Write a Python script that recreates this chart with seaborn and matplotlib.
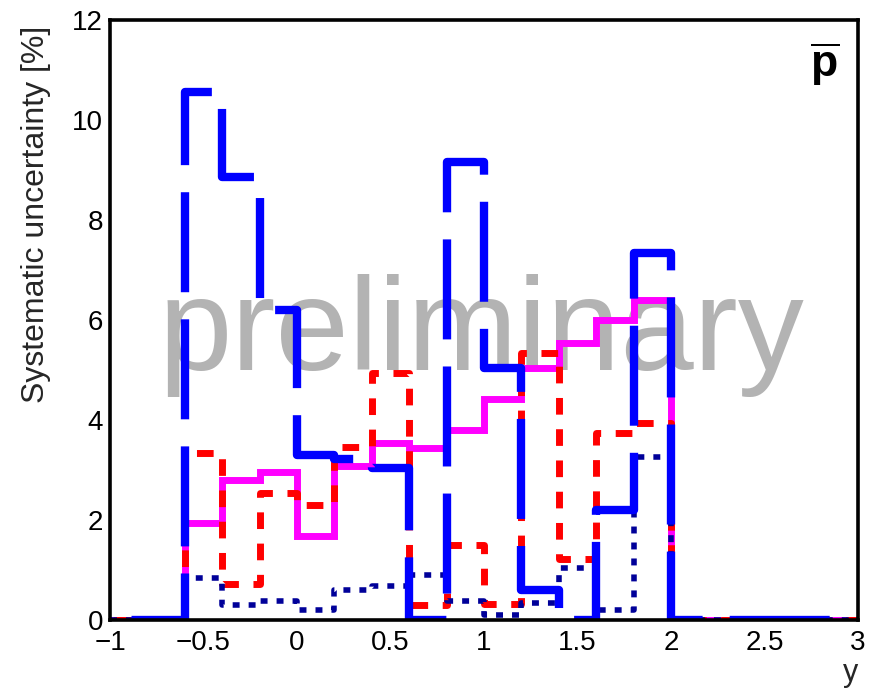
import matplotlib
matplotlib.use("Agg")
import matplotlib.pyplot as plt
from matplotlib.ticker import MultipleLocator
import numpy as np
import pandas as pd
import seaborn as sns

# rapidity bin edges (width 0.2 from -1 to 3)
bin_edges = [-1.0, -0.8, -0.6, -0.4, -0.2, 0.0, 0.2, 0.4, 0.6, 0.8, 1.0,
             1.2, 1.4, 1.6, 1.8, 2.0, 2.2, 2.4, 2.6, 2.8, 3.0]

# systematic uncertainty contributions per bin [%]
sys_blue = [0, 0, 10.55, 8.85, 6.2, 3.3, 3.22, 3.05, 0, 9.15, 5.05, 0.6,
            0, 2.2, 7.35, 0, 0, 0, 0, 0]
sys_magenta = [0, 0, 1.95, 2.8, 2.96, 1.68, 3.08, 3.55, 3.45, 3.8, 4.43, 5.05,
               5.55, 6.0, 6.4, 0, 0, 0, 0, 0]
sys_red = [0, 0, 3.35, 0.72, 2.55, 2.3, 3.47, 4.95, 0.3, 1.5, 0.33, 5.35,
           1.22, 3.75, 3.95, 0, 0, 0, 0, 0]
sys_navy = [0, 0, 0.85, 0.3, 0.38, 0.2, 0.6, 0.68, 0.9, 0.38, 0.1, 0.35,
            1.05, 0.2, 3.27, 0, 0, 0, 0, 0]

x_ticks = [-1, -0.5, 0, 0.5, 1, 1.5, 2, 2.5, 3]
x_tick_labels = ["\u22121", "\u22120.5", "0", "0.5", "1", "1.5", "2", "2.5", "3"]
y_ticks = [0, 2, 4, 6, 8, 10, 12]

sns.set_style("white")
plt.rcParams["font.family"] = ["Liberation Sans", "DejaVu Sans"]
plt.rcParams["mathtext.fontset"] = "custom"
plt.rcParams["mathtext.rm"] = "Liberation Sans"
plt.rcParams["mathtext.bf"] = "Liberation Sans:bold"
plt.rcParams["lines.scale_dashes"] = False

fig = plt.figure(figsize=(8.71, 6.89), dpi=100)
ax = fig.add_axes([0.1263, 0.1001, 0.8587, 0.8709])

ax.text(0.497, 5.0 / 12.0, "preliminary", transform=ax.transAxes,
        ha="center", va="baseline", fontsize=95, color="#b3b3b3", zorder=1)


def step_frame(values):
    return pd.DataFrame({"y_rap": bin_edges, "sys": list(values) + [values[-1]]})


series = [
    (sys_magenta, "#ff00ff", 5.0, "-"),
    (sys_red, "#ff0000", 5.0, (20, (12, 10.5))),
    (sys_navy, "#000099", 4.0, (0, (5, 6.5))),
    (sys_blue, "#0000ff", 6.0, (76, (72, 19.5))),
]
for vals, col, lw, ls in series:
    sns.lineplot(data=step_frame(vals), x="y_rap", y="sys", ax=ax,
                 drawstyle="steps-post", estimator=None, sort=False,
                 color=col, linewidth=lw, linestyle=ls, zorder=2,
                 solid_joinstyle="miter", dash_capstyle="butt")

ax.set_xlim(-1, 3)
ax.set_ylim(0, 12)
ax.set_axisbelow(False)
ax.set_xticks(x_ticks)
ax.set_xticklabels(x_tick_labels)
ax.set_yticks(y_ticks)
ax.xaxis.set_minor_locator(MultipleLocator(0.1))
ax.yaxis.set_minor_locator(MultipleLocator(0.5))
ax.tick_params(axis="both", which="both", direction="in", top=False,
               right=False, width=2.2, colors="black", labelsize=20)
ax.tick_params(axis="both", which="major", length=14.4)
ax.tick_params(axis="both", which="minor", length=7.2)
ax.tick_params(axis="x", which="major", pad=7)
ax.tick_params(axis="y", which="major", pad=5)
for sp in ax.spines.values():
    sp.set_linewidth(2.6)
    sp.set_color("black")
    sp.set_zorder(3)

ax.set_ylabel("Systematic uncertainty [%]", fontsize=23, ha="right")
ax.yaxis.set_label_coords(-0.079, 0.99)
ax.set_xlabel("y", fontsize=22, ha="right")
ax.xaxis.set_label_coords(1.0, -0.064)

ax.text(0.955, 0.905, r"$\overline{\mathbf{p}}$", transform=ax.transAxes,
        ha="center", va="baseline", fontsize=32, color="black")

fig.savefig("out.png", dpi=100)
